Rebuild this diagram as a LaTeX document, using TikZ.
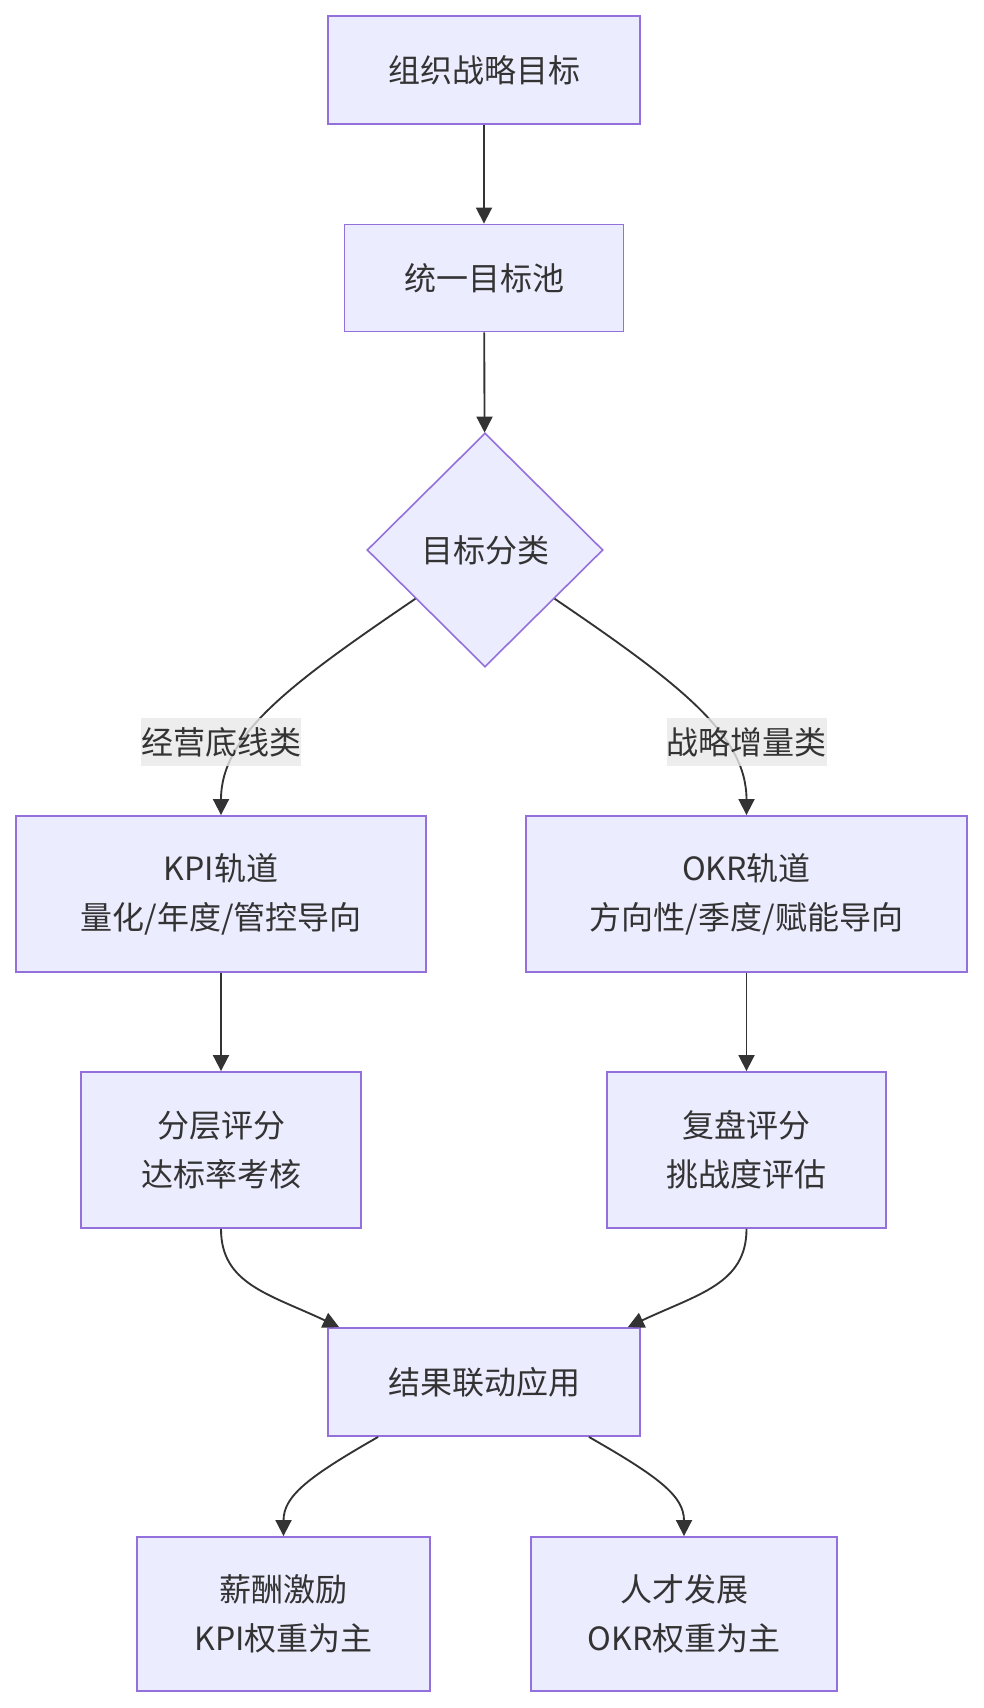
\documentclass[tikz,border=0pt]{standalone}
\usepackage{fontspec}
\setmainfont{Noto Sans CJK SC}
\usepackage{tikz}
\usetikzlibrary{arrows.meta, shapes.geometric}
\definecolor{Ink}{HTML}{333333}
\definecolor{BoxFill}{HTML}{ECECFF}
\definecolor{BoxLine}{HTML}{9370DB}
\definecolor{LabelBg}{HTML}{E8E8E8}

\begin{document}
\begin{tikzpicture}[x=0.75pt, y=-0.75pt,
    every node/.style={font=\fontsize{24}{36.75}\selectfont, text=Ink},
    box/.style={draw=BoxLine, fill=BoxFill, line width=1.4pt, align=center, inner sep=0pt},
    decision/.style={diamond, draw=BoxLine, fill=BoxFill, line width=1.2pt, inner sep=0pt,
      minimum width=177pt, minimum height=175.5pt},
    edgelabel/.style={fill=LabelBg, fill opacity=0.8, text opacity=1, inner sep=0pt,
      minimum width=120pt, minimum height=36pt},
    flow/.style={draw=Ink, line width=1.4pt, -{Triangle[length=12pt, width=12pt]}}]
      \useasboundingbox (0,0) rectangle (983,1708);
      % nodes
      \node[box, minimum width=234pt, minimum height=81pt] (goal) at (484,70) {组织战略目标};
      \node[box, minimum width=209.25pt, minimum height=80.25pt] (pool) at (484,278) {统一目标池};
      \node[decision] (sort) at (485,550) {目标分类};
      \node[box, minimum width=307.5pt, minimum height=117pt] (kpi) at (221,894) {KPI轨道\\量化/年度/管控导向};
      \node[box, minimum width=330.75pt, minimum height=117pt] (okr) at (746.5,894) {OKR轨道\\方向性/季度/赋能导向};
      \node[box, minimum width=210pt, minimum height=117pt] (score) at (221,1150) {分层评分\\达标率考核};
      \node[box, minimum width=209.25pt, minimum height=117pt] (review) at (746.5,1150) {复盘评分\\挑战度评估};
      \node[box, minimum width=234pt, minimum height=81pt] (apply) at (484,1382) {结果联动应用};
      \node[box, minimum width=219.75pt, minimum height=115.5pt] (pay) at (283.5,1614) {薪酬激励\\KPI权重为主};
      \node[box, minimum width=229.5pt, minimum height=115.5pt] (talent) at (684,1614) {人才发展\\OKR权重为主};
      % connectors
      \draw[flow] (goal) -- (pool);
      \draw[flow] (pool) -- (sort);
      \draw[flow] (sort.215) .. controls +(-125,85) and +(0,-80) .. (kpi.north);
      \draw[flow] (sort.-35) .. controls +(125,85) and +(0,-80) .. (okr.north);
      \draw[flow] (kpi) -- (score);
      \draw[flow] (okr) -- (review);
      \draw[flow] (score.south) .. controls +(0,55) and +(-70,-33) .. ([xshift=9pt]apply.north west);
      \draw[flow] (review.south) .. controls +(0,55) and +(70,-33) .. ([xshift=-9.75pt]apply.north east);
      \draw[flow] ([xshift=38.25pt]apply.south west) .. controls +(-70,40) and +(0,-40) .. (pay.north);
      \draw[flow] ([xshift=-39pt]apply.south east) .. controls +(70,40) and +(0,-40) .. (talent.north);
      % labels
      \node[edgelabel] (base) at (221,742) {经营底线类};
      \node[edgelabel] (growth) at (746.5,742) {战略增量类};
\end{tikzpicture}
\end{document}
